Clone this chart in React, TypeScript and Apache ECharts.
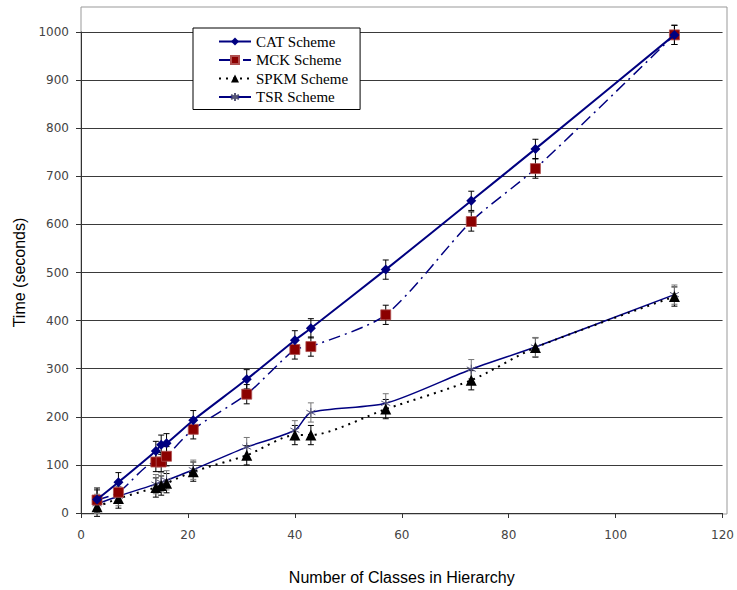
import React, { useEffect, useRef } from "react";
import * as echarts from "echarts";

const xValues = [3, 7, 14, 15, 16, 21, 31, 40, 43, 57, 73, 85, 111];
const catValues = [28, 64, 129, 142, 145, 193, 278, 359, 384, 506, 649, 757, 994];
const mckValues = [27, 43, 106, 106, 118, 174, 247, 340, 346, 412, 606, 716, 994];
const spkmValues = [13, 30, 53, 57, 62, 86, 120, 162, 162, 216, 276, 344, 450];
const tsrValues = [19, 35, 60, 64, 68, 90, 137, 172, 209, 228, 299, 345, 454];
const catErr = [20, 20, 20, 20, 20, 20, 20, 20, 20, 20, 20, 20, 20];
const mckErr = [25, 20, 20, 20, 20, 20, 20, 20, 20, 20, 20, 20, 20];
const spkmErr = [20, 20, 20, 20, 20, 20, 20, 20, 20, 20, 20, 20, 20];
const tsrErr = [20, 20, 20, 20, 20, 20, 20, 20, 20, 20, 20, 20, 20];
const seriesNames = ["CAT Scheme", "MCK Scheme", "SPKM Scheme", "TSR Scheme"];

const asterisk =
  "path://M5,0 L5,10 M0.7,2.5 L9.3,7.5 M9.3,2.5 L0.7,7.5";

function pairs(vals: number[]) {
  return xValues.map((x, i) => [x, vals[i]]);
}
function errData(vals: number[], errs: number[]) {
  return xValues.map((x, i) => [x, vals[i] - errs[i], vals[i] + errs[i]]);
}

function errorSeries(vals: number[], errs: number[], color: string) {
  return {
    type: "custom",
    data: errData(vals, errs),
    encode: { x: 0, y: [1, 2] },
    z: 3,
    silent: true,
    renderItem: (params: any, api: any) => {
      const x = api.value(0);
      const top = api.coord([x, api.value(2)]);
      const bot = api.coord([x, api.value(1)]);
      const w = 3;
      const st = { stroke: color, lineWidth: 1 };
      return {
        type: "group",
        children: [
          { type: "line", shape: { x1: top[0], y1: top[1], x2: bot[0], y2: bot[1] }, style: st },
          { type: "line", shape: { x1: top[0] - w, y1: top[1], x2: top[0] + w, y2: top[1] }, style: st },
          { type: "line", shape: { x1: bot[0] - w, y1: bot[1], x2: bot[0] + w, y2: bot[1] }, style: st },
        ],
      };
    },
  };
}

export default function App() {
  const ref = useRef<HTMLDivElement>(null);
  useEffect(() => {
    if (!ref.current) return;
    const chart = echarts.init(ref.current, undefined, { renderer: "svg" });
    const navy = "#000080";
    chart.setOption({
      animation: false,
      backgroundColor: "#ffffff",
      grid: { left: 81, right: 10, top: 32, bottom: 76 },
      graphic: [
        {
          type: "rect",
          shape: { x: 81, y: 7, width: 646, height: 507 },
          style: { fill: "none", stroke: "#999999", lineWidth: 1 },
          silent: true,
          z: 0,
        },
      ],
      legend: {
        data: seriesNames,
        orient: "vertical",
        left: 193,
        top: 28,
        padding: [5, 12, 4, 25],
        itemGap: 1.5,
        itemWidth: 32,
        itemHeight: 10,
        backgroundColor: "#ffffff",
        borderColor: "#000000",
        borderWidth: 1,
        textStyle: { fontFamily: "Liberation Serif", fontSize: 15, color: "#000000", lineHeight: 17 },
      },
      xAxis: {
        type: "value",
        min: 0,
        max: 120,
        interval: 20,
        name: "Number of Classes in Hierarchy",
        nameLocation: "middle",
        nameGap: 56,
        nameTextStyle: { fontFamily: "Liberation Sans", fontSize: 16, color: "#000000" },
        axisLine: { show: true, lineStyle: { color: "#333333", width: 1 } },
        axisTick: { show: true, length: 5, lineStyle: { color: "#333333" } },
        axisLabel: { fontFamily: "DejaVu Sans", fontSize: 12, color: "#444444", margin: 16 },
        splitLine: { show: false },
      },
      yAxis: {
        type: "value",
        min: 0,
        max: 1000,
        interval: 100,
        name: "Time (seconds)",
        nameLocation: "middle",
        nameGap: 43,
        nameTextStyle: { fontFamily: "Liberation Sans", fontSize: 16, color: "#000000" },
        axisLine: { show: true, lineStyle: { color: "#333333", width: 1 } },
        axisTick: { show: true, length: 5, lineStyle: { color: "#333333" } },
        axisLabel: {
          fontFamily: "DejaVu Sans",
          fontSize: 12,
          color: "#444444",
          margin: 12,
          formatter: (v: number) => String(v),
        },
        splitLine: { show: true, lineStyle: { color: "#3a3a3a", width: 1 } },
      },
      series: [
        errorSeries(catValues, catErr, "#000000"),
        errorSeries(mckValues, mckErr, "#000000"),
        errorSeries(spkmValues, spkmErr, "#000000"),
        errorSeries(tsrValues, tsrErr, "#777777"),
        {
          name: "TSR Scheme",
          type: "line",
          data: pairs(tsrValues),
          smooth: 0.25,
          symbol: asterisk,
          symbolSize: 9,
          z: 4,
          lineStyle: { color: navy, width: 1.5 },
          itemStyle: { color: "none", borderColor: "#555577", borderWidth: 1 },
        },
        {
          name: "SPKM Scheme",
          type: "line",
          data: pairs(spkmValues),
          smooth: 0.25,
          symbol: "triangle",
          symbolSize: 11,
          z: 5,
          lineStyle: { color: "#000000", width: 2, type: [2, 5] },
          itemStyle: { color: "#000000" },
        },
        {
          name: "MCK Scheme",
          type: "line",
          data: pairs(mckValues),
          smooth: 0.25,
          symbol: "rect",
          symbolSize: 10,
          z: 5,
          lineStyle: { color: navy, width: 1.5, type: [12, 5, 2, 5] },
          itemStyle: { color: "#8b0000", borderColor: "#b05050", borderWidth: 0.8 },
        },
        {
          name: "CAT Scheme",
          type: "line",
          data: pairs(catValues),
          smooth: 0.2,
          symbol: "diamond",
          symbolSize: 10,
          z: 6,
          lineStyle: { color: navy, width: 2 },
          itemStyle: { color: navy },
        },
      ],
    });
    return () => chart.dispose();
  }, []);
  return (
    <div
      ref={ref}
      style={{ position: "fixed", left: 0, top: 0, width: 737, height: 590 }}
    />
  );
}
